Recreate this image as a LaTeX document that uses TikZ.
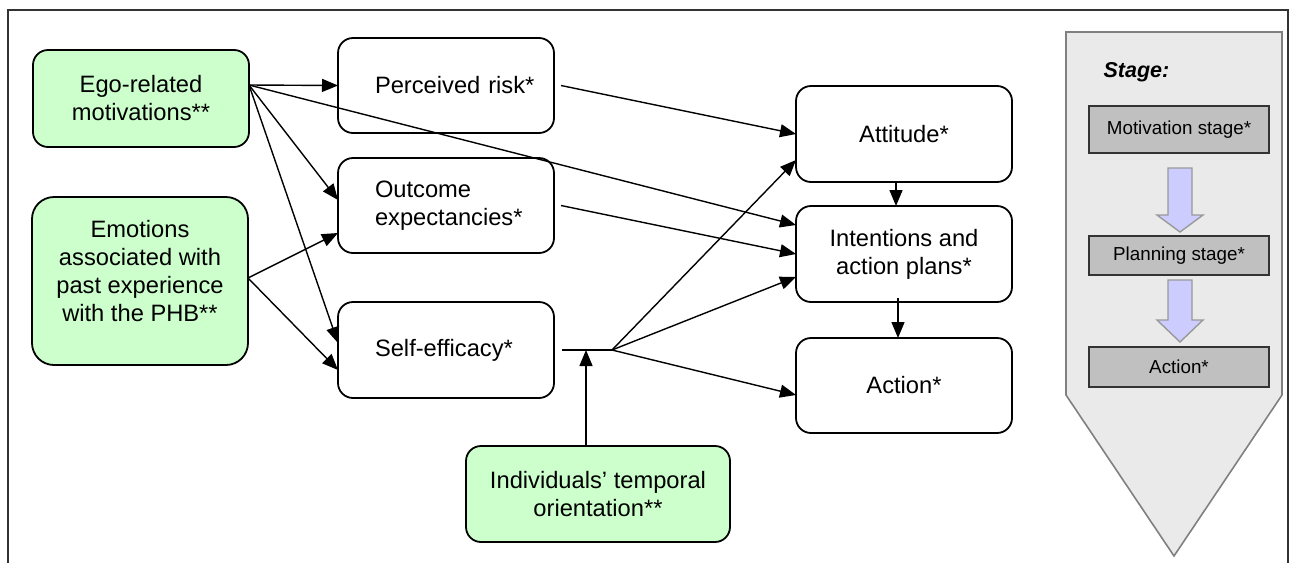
\documentclass[tikz,border=0pt]{standalone}
\usepackage{fontspec}
\setmainfont{Liberation Sans}
\usetikzlibrary{arrows.meta}
\definecolor{boxgreen}{HTML}{CCFFCC}
\definecolor{panelfill}{HTML}{EAEAEA}
\definecolor{panelline}{HTML}{808080}
\definecolor{stagefill}{HTML}{C0C0C0}
\definecolor{blockfill}{HTML}{CCCCFF}
\definecolor{blockline}{HTML}{999999}
\definecolor{framecol}{HTML}{333333}
\begin{document}
\begin{tikzpicture}[x=1pt,y=-1pt,
  mainfont/.style={font=\fontsize{23.7}{28}\selectfont},
  smallfont/.style={font=\fontsize{18.8}{22}\selectfont},
  box/.style={draw, line width=1.8pt, rounded corners=15pt, minimum width=216pt,
    minimum height=96pt, inner sep=0pt, outer sep=0pt, align=center, mainfont},
  greenbox/.style={box, fill=boxgreen},
  leftbox/.style={box, align=left, text width=142pt, inner xsep=37pt},
  stagebox/.style={draw=framecol, line width=1.8pt, fill=stagefill, minimum width=180pt,
    inner sep=0pt, outer sep=0pt, smallfont},
  conn/.style={line width=1.4pt, -{Triangle[length=16pt,width=13pt]}},
  plain/.style={line width=1.4pt},
  blockarrow/.style={draw=blockline, fill=blockfill, line width=1.4pt}
]
\useasboundingbox (0,0) rectangle (1293,563);
% outer frame
\draw[framecol, line width=1.6pt] (8,563) -- (8,10) -- (1288,10) -- (1288,563);

% left green boxes
\node[greenbox, minimum height=97pt] (ego) at (141,98.5) {Ego-related\\motivations**};
\node[greenbox, minimum height=168pt, rounded corners=22pt] (emo) at (140,281)
  {Emotions\\associated with\\past experience\\with the PHB**\\[-16pt]\strut};

% middle boxes
\node[leftbox, minimum height=95pt] (perc) at (446,85.5) {\hbox{Perceived risk*}};
\node[leftbox, minimum height=95pt] (outc) at (446,205.5) {Outcome\\expectancies*};
\node[leftbox, minimum height=96pt] (self) at (446,350) {Self-efficacy*};

% right boxes
\node[box] (att) at (904,134) {Attitude*};
\node[box] (int) at (904,254) {Intentions and\\action plans*};
\node[box, minimum height=95pt] (act) at (904,385.5) {Action*};

% temporal
\node[greenbox, minimum width=264pt] (temp) at (598,494) {Individuals’ temporal\\orientation**};

% ports
\coordinate (egoout) at ([yshift=13.5pt]ego.east);
\coordinate (emoout) at ([yshift=3pt]emo.east);
\coordinate (selfline) at ([xshift=8pt]self.east);
\coordinate (mod) at ([xshift=58pt]self.east);
\coordinate (modin) at ([xshift=-12pt]temp.north |- mod);

% connectors from ego
\draw[conn] (egoout) -- (perc.west);
\draw[conn] (egoout) -- ([yshift=5.5pt]outc.west);
\draw[conn] (egoout) -- ([yshift=7pt]self.west);
\draw[conn] (egoout) -- ([yshift=29pt]int.west);
% connectors from emotions
\draw[conn] (emoout) -- ([yshift=-27.5pt]outc.west);
\draw[conn] (emoout) -- ([yshift=-20pt]self.west);
% middle to right
\draw[conn] ([xshift=7pt]perc.east) -- (att.west);
\draw[conn] ([xshift=7pt]outc.east) -- (int.west);
% self-efficacy moderated fan
\draw[plain] (selfline) -- (mod);
\draw[conn] ([xshift=-12pt]temp.north) -- (modin);
\draw[conn] (mod) -- ([yshift=-26pt]att.west);
\draw[conn] (mod) -- ([yshift=-23pt]int.west);
\draw[conn] (mod) -- ([yshift=-9.5pt]act.west);
% vertical
\draw[conn] ([xshift=-8pt]att.south) -- ([xshift=-8pt]int.north);
\draw[conn] ([xshift=-6pt,yshift=4pt]int.south) -- ([xshift=-6pt]act.north);

% stage panel
\draw[draw=panelline, fill=panelfill, line width=1.6pt]
  (1066,32) -- (1282,32) -- (1282,395) -- (1174,556) -- (1066,395) -- cycle;
\node[anchor=west, font=\fontsize{21.5}{25}\selectfont\bfseries\itshape] (stagelbl) at (1100,72) {Stage:};
\node[stagebox, minimum height=47pt] (s1) at (1179,129.5) {Motivation stage*};
\node[stagebox, minimum height=39pt] (s2) at (1179,255.5) {Planning stage*};
\node[stagebox, minimum height=40pt] (s3) at (1179,367) {Action*};
\draw[blockarrow] (1168,168) -- (1192,168) -- (1192,215) -- (1203,215) -- (1180,232)
  -- (1157,215) -- (1168,215) -- cycle;
\draw[blockarrow] (1168,280) -- (1192,280) -- (1192,320) -- (1203,320) -- (1180,342)
  -- (1157,320) -- (1168,320) -- cycle;
\end{tikzpicture}
\end{document}
